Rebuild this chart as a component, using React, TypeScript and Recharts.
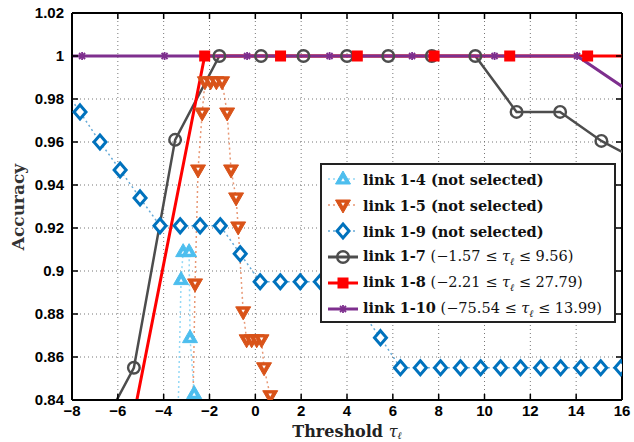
import React from 'react'
import {
  LineChart, Line, XAxis, YAxis, CartesianGrid, ReferenceLine, Legend,
} from 'recharts'

// axis ticks
const X_TICKS = [-8, -6, -4, -2, 0, 2, 4, 6, 8, 10, 12, 14, 16]
const Y_TICKS = [0.84, 0.86, 0.88, 0.9, 0.92, 0.94, 0.96, 0.98, 1, 1.02]

// link 1-4 (not selected)
const L14_X = [-3.4, -3.24, -3.15, -2.89, -2.85, -2.67, -2.6]
const L14_Y = [0.82, 0.896, 0.909, 0.909, 0.869, 0.843, 0.82]

// link 1-5 (not selected)
const L15_X = [-2.75, -2.63, -2.5, -2.32, -2.2, -1.95, -1.7, -1.45, -1.23, -1.06, -0.84, -0.75, -0.53, -0.38, -0.16, 0.06, 0.27, 0.38, 0.65, 0.8]
const L15_Y = [0.82, 0.894, 0.947, 0.9735, 0.988, 0.988, 0.988, 0.988, 0.9735, 0.947, 0.934, 0.9205, 0.881, 0.868, 0.868, 0.868, 0.868, 0.855, 0.842, 0.82]

// link 1-9 (not selected)
const L19_X = [-8.52, -7.65, -6.78, -5.9, -5.03, -4.16, -3.28, -2.41, -1.53, -0.66, 0.21, 1.09, 1.96, 2.84, 3.71, 4.58, 5.46, 6.33, 7.2, 8.08, 8.95, 9.83, 10.7, 11.57, 12.45, 13.32, 14.2, 15.07, 15.95]
const L19_Y = [0.987, 0.974, 0.96, 0.947, 0.934, 0.921, 0.921, 0.921, 0.921, 0.908, 0.895, 0.895, 0.895, 0.895, 0.895, 0.882, 0.869, 0.855, 0.855, 0.855, 0.855, 0.855, 0.855, 0.855, 0.855, 0.855, 0.855, 0.855, 0.855]

// link 1-7
const L17_X = [-7.15, -5.3, -3.5, -1.57, 0.25, 2.1, 4.0, 5.8, 7.7, 9.6, 11.4, 13.3, 15.1, 16.95]
const L17_Y = [0.818, 0.855, 0.961, 1, 1, 1, 1, 1, 1, 1, 0.974, 0.974, 0.9605, 0.95]

// link 1-8
const L18_X = [-5.54, -2.21, 1.1, 4.45, 7.8, 11.1, 14.5, 17.8]
const L18_Y = [0.82, 1, 1, 1, 1, 1, 1, 1]

// link 1-10
const L110_X = [-11.16, -7.56, -3.96, -0.36, 3.24, 6.84, 10.44, 14.04, 17.64]
const L110_Y = [1, 1, 1, 1, 1, 1, 1, 1, 0.974]

const C = {
  l14: '#4DBEEE',
  l15: '#D95319',
  l19: '#0072BD',
  l17: '#4D4D4D',
  l18: '#FF0000',
  l110: '#7E2F8E',
}

const zip = (xs: number[], ys: number[]) => xs.map((x, i) => ({ x, y: ys[i] }))

const W = 634
const H = 442
const PLOT_LEFT = 72
const PLOT_RIGHT = 622
const PLOT_TOP = 13
const PLOT_BOTTOM = 400
const SERIF = 'DejaVu Serif, Liberation Serif, serif'

const fmt = (v: number) => (v < 0 ? '\u2212' + Math.abs(v) : String(v))

function TriUp({ cx, cy, color }: any) {
  return (
    <g>
      <polygon points={`${cx},${cy - 8} ${cx - 7.5},${cy + 5} ${cx + 7.5},${cy + 5}`} fill={color} stroke={color} strokeWidth={1} />
      <polygon points={`${cx},${cy - 1} ${cx - 1.8},${cy + 2.2} ${cx + 1.8},${cy + 2.2}`} fill="#fff" />
    </g>
  )
}

function TriDown({ cx, cy, color }: any) {
  return (
    <g>
      <polygon points={`${cx},${cy + 8} ${cx - 7.5},${cy - 5} ${cx + 7.5},${cy - 5}`} fill={color} stroke={color} strokeWidth={1} />
      <polygon points={`${cx},${cy + 1} ${cx - 1.8},${cy - 2.2} ${cx + 1.8},${cy - 2.2}`} fill="#fff" />
    </g>
  )
}

function Diamond({ cx, cy, color }: any) {
  return <polygon points={`${cx},${cy - 7} ${cx + 6},${cy} ${cx},${cy + 7} ${cx - 6},${cy}`}
    fill="#fff" stroke={color} strokeWidth={3} />
}

function Ring({ cx, cy, color }: any) {
  return <circle cx={cx} cy={cy} r={5.8} fill="none" stroke={color} strokeWidth={2.4} />
}

function Square({ cx, cy, color }: any) {
  return <rect x={cx - 5.5} y={cy - 5.5} width={11} height={11} fill={color} />
}

function Star({ cx, cy, color }: any) {
  return (
    <g stroke={color} strokeWidth={1.8}>
      <line x1={cx - 3} y1={cy - 3} x2={cx + 3} y2={cy + 3} />
      <line x1={cx - 3} y1={cy + 3} x2={cx + 3} y2={cy - 3} />
      <line x1={cx} y1={cy - 4} x2={cx} y2={cy + 4} />
    </g>
  )
}

const dotOf = (Shape: any, color: string) => (p: any) =>
  <Shape key={`d${p.index}`} cx={p.cx} cy={p.cy} color={color} />

function XTick({ x, payload }: any) {
  return (
    <g>
      <line x1={x} y1={PLOT_BOTTOM} x2={x} y2={PLOT_BOTTOM - 6} stroke="#000" strokeWidth={1.5} />
      <line x1={x} y1={PLOT_TOP} x2={x} y2={PLOT_TOP + 6} stroke="#000" strokeWidth={1.5} />
      <text x={x} y={416} textAnchor="middle" fontFamily="Liberation Sans, Arial" fontWeight="bold" fontSize={15} fill="#000">
        {fmt(payload.value)}
      </text>
    </g>
  )
}

function YTick({ y, payload }: any) {
  return (
    <g>
      <line x1={PLOT_LEFT} y1={y} x2={PLOT_LEFT + 6} y2={y} stroke="#000" strokeWidth={1.5} />
      <line x1={PLOT_RIGHT} y1={y} x2={PLOT_RIGHT - 6} y2={y} stroke="#000" strokeWidth={1.5} />
      <text x={64} y={y + 5} textAnchor="end" fontFamily="Liberation Sans, Arial" fontWeight="bold" fontSize={15} fill="#000">
        {fmt(payload.value)}
      </text>
    </g>
  )
}

const Tau = () => (
  <span><i>τ</i><sub style={{ fontSize: 10, fontStyle: 'italic' }}>ℓ</sub></span>
)

const LEGEND_ROWS = [
  { name: 'link 1-4', color: C.l14, shape: TriUp, dotted: true, rest: <b> (not selected)</b> },
  { name: 'link 1-5', color: C.l15, shape: TriDown, dotted: true, rest: <b> (not selected)</b> },
  { name: 'link 1-9', color: C.l19, shape: Diamond, dotted: true, rest: <b> (not selected)</b> },
  { name: 'link 1-7', color: C.l17, shape: Ring, dotted: false, rest: <span> (−1.57 ≤ <Tau /> ≤ 9.56)</span> },
  { name: 'link 1-8', color: C.l18, shape: Square, dotted: false, rest: <span> (−2.21 ≤ <Tau /> ≤ 27.79)</span> },
  { name: 'link 1-10', color: C.l110, shape: Star, dotted: false, rest: <span> (−75.54 ≤ <Tau /> ≤ 13.99)</span> },
]

function LegendBox() {
  return (
    <div style={{
      background: '#fff', border: '2px solid #222', boxSizing: 'border-box', width: 296, height: 160,
      paddingTop: 1, fontFamily: SERIF, fontSize: 14.5, color: '#111',
    }}>
      {LEGEND_ROWS.map(r => (
        <div key={r.name} style={{ height: 26, display: 'flex', alignItems: 'center', whiteSpace: 'nowrap' }}>
          <svg width={34} height={26} style={{ marginLeft: 4, flexShrink: 0 }}>
            <line x1={2} y1={13} x2={32} y2={13} stroke={r.color}
              strokeWidth={r.dotted ? 1.5 : 3} strokeDasharray={r.dotted ? '2 3' : undefined}
              strokeOpacity={r.dotted ? 0.6 : 1} />
            <r.shape cx={17} cy={13} color={r.color} />
          </svg>
          <span style={{ marginLeft: 3 }}><b>{r.name}</b>{r.rest}</span>
        </div>
      ))}
    </div>
  )
}

export default function App() {
  const dotted = { strokeWidth: 1.5, strokeDasharray: '2 3', strokeOpacity: 0.6 }
  return (
    <div style={{ position: 'absolute', left: 0, top: 0, width: W, height: H, background: '#fff' }}>
      <LineChart width={W} height={H} margin={{ top: PLOT_TOP, right: W - PLOT_RIGHT, bottom: 12, left: 10 }}>
        <CartesianGrid stroke="#777" strokeDasharray="1 3" />
        <XAxis type="number" dataKey="x" domain={[-8, 16]} ticks={X_TICKS} interval={0} allowDataOverflow
          height={30} tickLine={false} axisLine={{ stroke: '#000', strokeWidth: 2 }} tick={<XTick />}
          label={{
            content: () => (
              <text x={347} y={437} textAnchor="middle" fontFamily={SERIF}
                fontWeight="bold" fontSize={16} fill="#222">
                Threshold <tspan fontStyle="italic" fontWeight="normal">τ</tspan>
                <tspan fontStyle="italic" fontWeight="normal" fontSize={10} dy={2}>ℓ</tspan>
              </text>
            ),
          }} />
        <YAxis type="number" domain={[0.84, 1.02]} ticks={Y_TICKS} interval={0} allowDataOverflow
          width={62} tickLine={false} axisLine={{ stroke: '#000', strokeWidth: 2 }} tick={<YTick />}
          label={{
            content: () => (
              <text x={24} y={207} transform="rotate(-90 24 207)" textAnchor="middle"
                fontFamily={SERIF} fontWeight="bold" fontSize={17} fill="#333">
                Accuracy
              </text>
            ),
          }} />
        <ReferenceLine x={16} stroke="#000" strokeWidth={2} />
        <ReferenceLine y={1.02} stroke="#000" strokeWidth={2} />

        <Line data={zip(L14_X, L14_Y)} dataKey="y" stroke={C.l14} {...dotted}
          dot={dotOf(TriUp, C.l14)} isAnimationActive={false} />
        <Line data={zip(L15_X, L15_Y)} dataKey="y" stroke={C.l15} {...dotted}
          dot={dotOf(TriDown, C.l15)} isAnimationActive={false} />
        <Line data={zip(L19_X, L19_Y)} dataKey="y" stroke={C.l19} {...dotted}
          dot={dotOf(Diamond, C.l19)} isAnimationActive={false} />
        <Line data={zip(L17_X, L17_Y)} dataKey="y" stroke={C.l17} strokeWidth={2.5}
          dot={dotOf(Ring, C.l17)} isAnimationActive={false} />
        <Line data={zip(L18_X, L18_Y)} dataKey="y" stroke={C.l18} strokeWidth={3}
          dot={dotOf(Square, C.l18)} isAnimationActive={false} />
        <Line data={zip(L110_X, L110_Y)} dataKey="y" stroke={C.l110} strokeWidth={3}
          dot={dotOf(Star, C.l110)} isAnimationActive={false} />

        <Legend layout="vertical" align="center" verticalAlign="middle" content={<LegendBox />}
          wrapperStyle={{ left: 320, top: 163, width: 296, height: 160 }} />
      </LineChart>
    </div>
  )
}
